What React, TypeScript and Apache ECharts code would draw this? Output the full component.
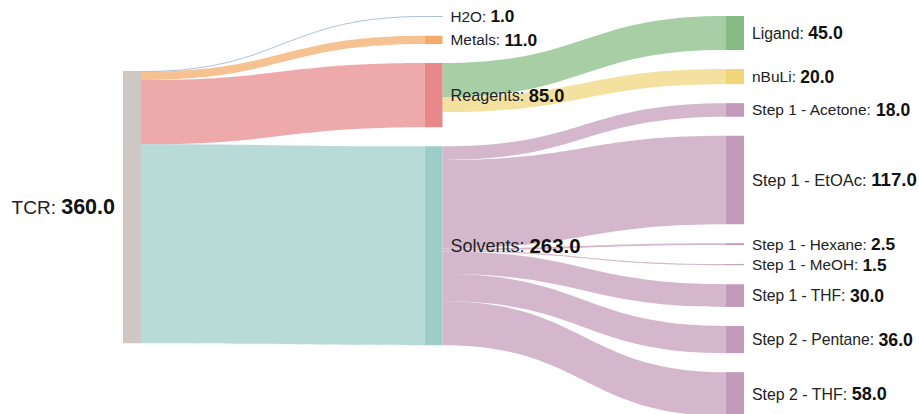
import React, { useEffect, useRef } from "react";
import * as echarts from "echarts";

const nodeNames = [
  "TCR",
  "H2O",
  "Metals",
  "Reagents",
  "Solvents",
  "Ligand",
  "nBuLi",
  "Step 1 - Acetone",
  "Step 1 - EtOAc",
  "Step 1 - Hexane",
  "Step 1 - MeOH",
  "Step 1 - THF",
  "Step 2 - Pentane",
  "Step 2 - THF",
];
const nodeValues = [360, 1, 11, 85, 263, 45, 20, 18, 117, 2.5, 1.5, 30, 36, 58];
const nodeColors = [
  "#cfc7c4",
  "#8eaad6",
  "#f4aa68",
  "#e8888a",
  "#9dcdc9",
  "#86bb83",
  "#f0d57a",
  "#c39aba",
  "#c39aba",
  "#c39aba",
  "#c39aba",
  "#c39aba",
  "#c39aba",
  "#c39aba",
];
const linkSources = [
  "TCR", "TCR", "TCR", "TCR",
  "Reagents", "Reagents",
  "Solvents", "Solvents", "Solvents", "Solvents", "Solvents", "Solvents", "Solvents",
];
const linkTargets = [
  "H2O", "Metals", "Reagents", "Solvents",
  "Ligand", "nBuLi",
  "Step 1 - Acetone", "Step 1 - EtOAc", "Step 1 - Hexane", "Step 1 - MeOH",
  "Step 1 - THF", "Step 2 - Pentane", "Step 2 - THF",
];
const linkValues = [1, 11, 85, 263, 45, 20, 18, 117, 2.5, 1.5, 30, 36, 58];

const FONT = "'Liberation Sans', Arial, Helvetica, sans-serif";

export default function App() {
  const ref = useRef<HTMLDivElement>(null);
  useEffect(() => {
    if (!ref.current) return;
    const chart = echarts.init(ref.current, undefined, { renderer: "svg" });
    const fmt = (p: any) => `{n|${p.name}: }{v|${Number(p.value).toFixed(1)}}`;
    const nodes = nodeNames.map((name, i) => {
      const v = nodeValues[i];
      const nameSize = Math.round((15.3 + 0.0102 * v) * 10) / 10;
      const valSize = Math.round((17.3 + 0.0116 * v) * 10) / 10;
      const item: any = {
        name,
        value: v,
        itemStyle: { color: nodeColors[i], borderWidth: 0 },
        label: {
          position: name === "TCR" ? "left" : "right",
          distance: 8,
          formatter: fmt,
          rich: {
            n: { fontSize: nameSize, color: "#222", fontFamily: FONT },
            v: { fontSize: valSize, fontWeight: "bold", color: "#111", fontFamily: FONT },
          },
        },
      };
      if (name === "TCR") {
        item.localY = 0.1375;
      }
      return item;
    });
    const links = linkSources.map((s, i) => ({
      source: s,
      target: linkTargets[i],
      value: linkValues[i],
    }));
    chart.setOption({
      animation: false,
      backgroundColor: "#ffffff",
      series: [
        {
          type: "sankey",
          left: 123,
          top: 16,
          width: 621,
          height: 400,
          nodeWidth: 18,
          nodeGap: 19,
          nodeAlign: "left",
          layoutIterations: 0,
          draggable: false,
          emphasis: { disabled: true },
          data: nodes,
          links,
          label: {
            show: true,
            position: "right",
            distance: 8,
            formatter: fmt,
          },
          lineStyle: { color: "target", opacity: 0.72, curveness: 0.5 },
        },
      ],
    });
    return () => chart.dispose();
  }, []);
  return (
    <div
      ref={ref}
      style={{ position: "fixed", left: 0, top: 0, width: 919, height: 414 }}
    />
  );
}
